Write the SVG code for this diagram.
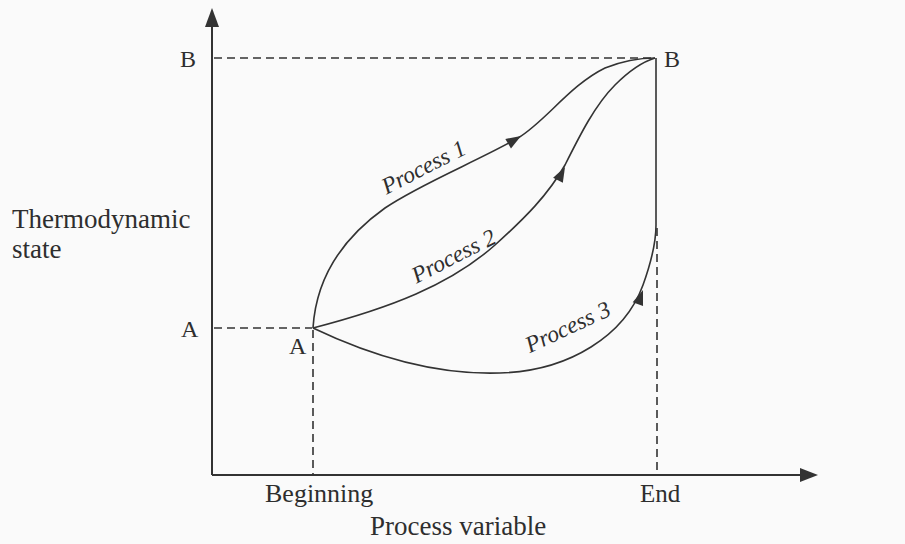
<svg xmlns="http://www.w3.org/2000/svg" width="905" height="544" viewBox="0 0 905 544">
<style>
.ln{fill:none;stroke:#333;stroke-width:1.6}
.ax{fill:none;stroke:#333;stroke-width:2}
.ds{fill:none;stroke:#333;stroke-width:1.6;stroke-dasharray:8 5}
.t{font-family:"Liberation Serif","Times New Roman",serif;fill:#2e2e2e}
.pl{font-family:"Liberation Serif","Times New Roman",serif;font-style:italic;font-size:23.5px;fill:#2e2e2e}
.ah{fill:#333}
</style>
<defs>
<path id="arr" d="M0,0 L-15,-5.5 L-15,5.5 Z"/>
</defs>
<rect width="905" height="544" fill="#fafafa"/>
<g id="axes">
<line class="ax" x1="212" y1="475" x2="212" y2="22"/>
<polygon class="ah" points="212,8 205,27 219,27"/>
<line class="ax" x1="212" y1="475" x2="803" y2="475"/>
<polygon class="ah" points="818,475 800,468 800,482"/>
<text class="t" x="12" y="228" font-size="27">Thermodynamic</text>
<text class="t" x="12" y="258" font-size="27">state</text>
<text class="t" x="370" y="535" font-size="27">Process variable</text>
</g>
<g id="connectors">
<line class="ds" x1="214" y1="58" x2="655" y2="58"/>
<line class="ds" x1="214" y1="328" x2="312" y2="328"/>
<line class="ds" x1="313" y1="330" x2="313" y2="475"/>
<line class="ds" x1="657" y1="228" x2="657" y2="475"/>
<g id="process1">
<path class="ln" d="M313,328 C316,280 340,240 385,208 C420,184 480,160 518,138 C545,122 570,85 605,68 C625,60 640,58 655,58"/>
<use href="#arr" class="ah" transform="translate(521,136) rotate(-31)"/>
<text class="pl" transform="translate(427,174) rotate(-27)" text-anchor="middle">Process 1</text>
</g>
<g id="process2">
<path class="ln" d="M313,328 C390,308 450,285 495,245 C525,218 548,195 565,165 C580,135 595,105 615,85 C630,70 642,62 655,58"/>
<use href="#arr" class="ah" transform="translate(565,167) rotate(-62)"/>
<text class="pl" transform="translate(457,263) rotate(-27)" text-anchor="middle">Process 2</text>
</g>
<g id="process3">
<path class="ln" d="M313,328 C380,360 440,375 500,373 C570,371 625,335 643,285 C652,260 656,240 656,225 L656,58"/>
<use href="#arr" class="ah" transform="translate(643,290) rotate(-70)"/>
<text class="pl" transform="translate(571,334) rotate(-25)" text-anchor="middle">Process 3</text>
</g>
</g>
<g id="node-B-left"><text class="t" x="180" y="67" font-size="24">B</text></g>
<g id="node-B"><text class="t" x="664" y="67" font-size="24">B</text></g>
<g id="node-A-left"><text class="t" x="181" y="337" font-size="24">A</text></g>
<g id="node-A"><text class="t" x="289" y="354" font-size="24">A</text></g>
<g id="node-beginning"><text class="t" x="265" y="502" font-size="26">Beginning</text></g>
<g id="node-end"><text class="t" x="640" y="502" font-size="25">End</text></g>
</svg>
